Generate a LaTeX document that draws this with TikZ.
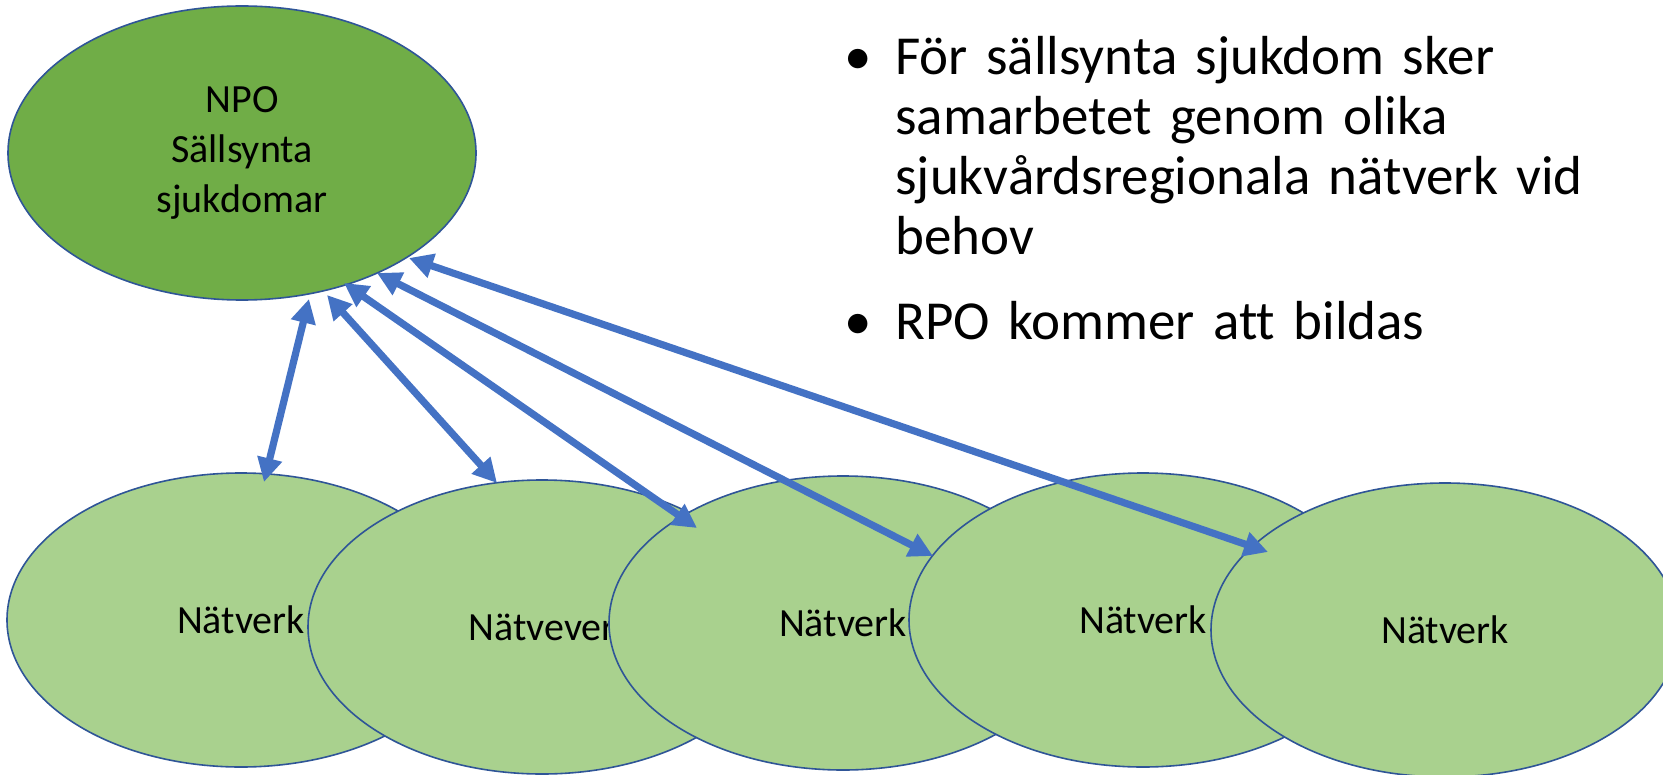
\documentclass[tikz,border=0pt]{standalone}
\usepackage{fontspec}
\setmainfont{Carlito}[Ligatures=NoCommon]
\usetikzlibrary{shapes.geometric,arrows.meta}
\definecolor{npogreen}{HTML}{70AD47}
\definecolor{netgreen}{HTML}{A9D18E}
\definecolor{edgeblue}{HTML}{2F5597}
\definecolor{arrowblue}{HTML}{4472C4}
\begin{document}
\begin{tikzpicture}[x=0.5pt,y=-0.5pt,
  oval/.style={ellipse, draw=edgeblue, line width=0.8pt, minimum width=234pt, minimum height=147pt, inner sep=0pt, font=\fontsize{20}{25}\selectfont, align=center},
  npobox/.style={oval, fill=npogreen},
  netbox/.style={oval, fill=netgreen},
  link/.style={draw=arrowblue, line width=3.6pt, arrows={Triangle[length=12pt,width=12pt]-Triangle[length=12pt,width=12pt]}},
  bullettext/.style={font=\fontsize{27.5}{30}\selectfont, anchor=base west, align=left, text width=400pt, inner sep=0pt},
  bulletdot/.style={font=\fontsize{27.5}{30}\selectfont, anchor=base, inner sep=0pt}]
\useasboundingbox (0,0) rectangle (1663,775);
\fill[white] (0,0) rectangle (1663,775);

\node[netbox] (n1) at (241,620) {Nätverk};
\node[netbox] (n2) at (542,627) {Nätvever};
\node[netbox] (n3) at (843,623) {Nätverk};
\node[netbox] (n4) at (1143,620) {Nätverk};
\node[netbox] (n5) at (1445,630) {Nätverk};
\node[npobox] (npo) at (242,153) {NPO\\Sällsynta\\sjukdomar};

\draw[link] ([shift={(67,146)}]npo.center) -- ([shift={(23,-138)}]n1.center);
\draw[link] ([shift={(85,142)}]npo.center) -- ([shift={(-45,-144)}]n2.center);
\draw[link] ([shift={(102,130)}]npo.center) -- ([shift={(-146,-95)}]n3.center);
\draw[link] ([shift={(135,120)}]npo.center) -- ([shift={(-210,-64)}]n4.center);
\draw[link] ([shift={(167,105)}]npo.center) -- ([shift={(-177,-78)}]n5.center);

\node[bulletdot] (d1) at (858,75) {•};
\node[bullettext] (b1) at (895,75) {För sällsynta sjukdom sker\\samarbetet genom olika\\sjukvårdsregionala nätverk vid\\behov};
\node[bulletdot] (d2) at (858,339) {•};
\node[bullettext] (b2) at (895,339) {RPO kommer att bildas};
\end{tikzpicture}
\end{document}
